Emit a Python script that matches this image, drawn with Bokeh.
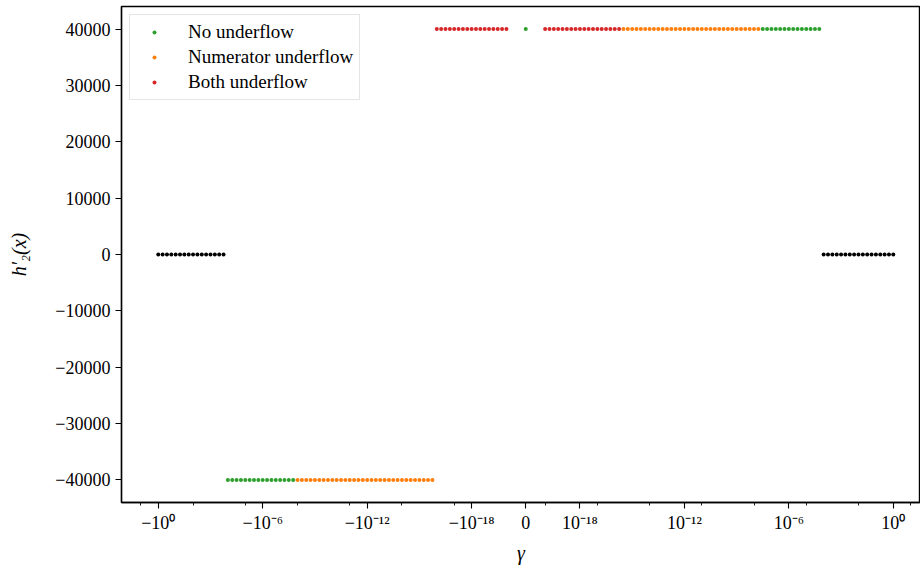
import math
from bokeh.plotting import figure
from bokeh.models import (ColumnDataSource, CustomJSTransform, FixedTicker,
                          CustomJSTickFormatter, Range1d)
from bokeh.transform import transform
from bokeh.embed import file_html
from bokeh.resources import INLINE

# ---------------- data (gamma = sign * 10**exponent) ----------------
# negative gamma side
neg_zero_exp = [0, -0.25, -0.5, -0.75, -1, -1.25, -1.5, -1.75, -2, -2.25, -2.5, -2.75,
                -3, -3.25, -3.5, -3.75]
neg_no_exp = [-4, -4.25, -4.5, -4.75, -5, -5.25, -5.5, -5.75, -6, -6.25, -6.5, -6.75,
              -7, -7.25, -7.5, -7.75]
neg_num_exp = [-8, -8.25, -8.5, -8.75, -9, -9.25, -9.5, -9.75, -10, -10.25, -10.5, -10.75,
               -11, -11.25, -11.5, -11.75, -12, -12.25, -12.5, -12.75, -13, -13.25, -13.5,
               -13.75, -14, -14.25, -14.5, -14.75, -15, -15.25, -15.5, -15.75]
neg_both_exp = [-16, -16.25, -16.5, -16.75, -17, -17.25, -17.5, -17.75, -18, -18.25, -18.5,
                -18.75, -19, -19.25, -19.5, -19.75, -20]
# positive gamma side
pos_both_exp = [-20, -19.75, -19.5, -19.25, -19, -18.75, -18.5, -18.25, -18, -17.75, -17.5,
                -17.25, -17, -16.75, -16.5, -16.25, -16, -15.75]
pos_num_exp = [-15.5, -15.25, -15, -14.75, -14.5, -14.25, -14, -13.75, -13.5, -13.25, -13,
               -12.75, -12.5, -12.25, -12, -11.75, -11.5, -11.25, -11, -10.75, -10.5, -10.25,
               -10, -9.75, -9.5, -9.25, -9, -8.75, -8.5, -8.25, -8, -7.75]
pos_no_exp = [-7.5, -7.25, -7, -6.75, -6.5, -6.25, -6, -5.75, -5.5, -5.25, -5, -4.75,
              -4.5, -4.25]
pos_zero_exp = [-4, -3.75, -3.5, -3.25, -3, -2.75, -2.5, -2.25, -2, -1.75, -1.5, -1.25,
                -1, -0.75, -0.5, -0.25, 0]

# h2'(x) levels
H_LOW = -40000
H_ZERO = 0
H_HIGH = 40000
gamma_zero_h = H_HIGH          # the single point at gamma = 0 (No underflow)

x_major_gamma = [-1, -1e-6, -1e-12, -1e-18, 0, 1e-18, 1e-12, 1e-6, 1]
x_major_labels = ["\u221210\u2070", "\u221210\u207b\u2076", "\u221210\u207b\u00b9\u00b2",
                  "\u221210\u207b\u00b9\u2078", "0", "10\u207b\u00b9\u2078",
                  "10\u207b\u00b9\u00b2", "10\u207b\u2076", "10\u2070"]
x_minor_gamma = [-10, -1e-2, -1e-5, -1e-8, -1e-11, -1e-14, -1e-17,
                 1e-20, 1e-17, 1e-14, 1e-11, 1e-8, 1e-5, 1e-2, 10]
y_ticks = [-40000, -30000, -20000, -10000, 0, 10000, 20000, 30000, 40000]

# ---------------- symlog scale ----------------
LINTHRESH = 1e-20
LINSCALE = 1.0
LS_ADJ = LINSCALE / (1 - 1 / 10)


def symlog(x):
    a = abs(x)
    if a <= LINTHRESH:
        return x / LINTHRESH * LS_ADJ
    return math.copysign(LS_ADJ + math.log10(a / LINTHRESH), x)


symlog_t = CustomJSTransform(args=dict(L=LINTHRESH, s=LS_ADJ), func="""
    const a = Math.abs(x);
    return a <= L ? x / L * s : Math.sign(x) * (s + Math.log10(a / L));
""", v_func="""
    const out = new Float64Array(xs.length);
    for (let i = 0; i < xs.length; i++) {
        const v = xs[i], a = Math.abs(v);
        out[i] = a <= L ? v / L * s : Math.sign(v) * (s + Math.log10(a / L));
    }
    return out;
""")

black_src = ColumnDataSource(dict(
    gamma=[-10 ** e for e in neg_zero_exp] + [10 ** e for e in pos_zero_exp],
    h=[H_ZERO] * (len(neg_zero_exp) + len(pos_zero_exp))))
no_src = ColumnDataSource(dict(
    gamma=[-10 ** e for e in neg_no_exp] + [0.0] + [10 ** e for e in pos_no_exp],
    h=[H_LOW] * len(neg_no_exp) + [gamma_zero_h] + [H_HIGH] * len(pos_no_exp)))
num_src = ColumnDataSource(dict(
    gamma=[-10 ** e for e in neg_num_exp] + [10 ** e for e in pos_num_exp],
    h=[H_LOW] * len(neg_num_exp) + [H_HIGH] * len(pos_num_exp)))
both_src = ColumnDataSource(dict(
    gamma=[-10 ** e for e in neg_both_exp] + [10 ** e for e in pos_both_exp],
    h=[H_HIGH] * (len(neg_both_exp) + len(pos_both_exp))))

# ---------------- figure ----------------
span = 2 * symlog(1)
x_start = -symlog(1) - 0.05 * span
x_end = x_start + span * 1.087

p = figure(width=920, height=568, output_backend="svg", toolbar_location=None,
           x_range=Range1d(x_start, x_end), y_range=Range1d(-44000, 44000),
           min_border_left=121, min_border_right=0, min_border_top=6,
           min_border_bottom=66)
p.outline_line_color = "black"
p.outline_line_width = 1.4
p.outline_line_alpha = 1.0
p.grid.visible = False
p.background_fill_color = "white"
p.border_fill_color = "white"

FONT = "Liberation Serif"
sz = 4
p.scatter(x=transform("gamma", symlog_t), y="h", source=black_src, size=sz,
          color="black", line_width=0)
p.scatter(x=transform("gamma", symlog_t), y="h", source=no_src, size=sz,
          color="#2ca02c", line_width=0, legend_label="No underflow")
p.scatter(x=transform("gamma", symlog_t), y="h", source=num_src, size=sz,
          color="#ff7f0e", line_width=0, legend_label="Numerator underflow")
p.scatter(x=transform("gamma", symlog_t), y="h", source=both_src, size=sz,
          color="#d62728", line_width=0, legend_label="Both underflow")

# x axis (symlog)
xa = p.xaxis[0]
xmaj = [symlog(g) for g in x_major_gamma]
xa.ticker = FixedTicker(ticks=xmaj, minor_ticks=[symlog(g) for g in x_minor_gamma])
xa.formatter = CustomJSTickFormatter(args=dict(tpos=xmaj, tlab=x_major_labels), code="""
    for (let i = 0; i < tpos.length; i++) {
        if (Math.abs(tpos[i] - tick) < 1e-6) return tlab[i];
    }
    return "";
""")
xa.axis_label = "\u03b3"
xa.axis_label_text_font_style = "italic"

ya = p.yaxis[0]
ya.ticker = FixedTicker(ticks=y_ticks, minor_ticks=[])
ya.formatter = CustomJSTickFormatter(code="""
    return tick < 0 ? "\\u2212" + Math.abs(tick) : tick.toString();
""")
ya.axis_label = "h\u2032\u2082(x)"
ya.axis_label_text_font_style = "italic"

for ax in (xa, ya):
    ax.axis_line_width = 1.3
    ax.axis_line_color = "black"
    ax.major_tick_line_width = 1.1
    ax.minor_tick_line_width = 0.9
    ax.major_tick_out = 6
    ax.major_tick_in = 0
    ax.minor_tick_out = 3
    ax.minor_tick_in = 0
    ax.major_label_text_font = FONT
    ax.major_label_text_font_size = "18px"
    ax.major_label_text_color = "black"
    ax.axis_label_text_font = FONT
    ax.axis_label_text_font_size = "20px"
    ax.axis_label_text_color = "black"
xa.major_label_standoff = 4
xa.axis_label_standoff = 6
ya.major_label_standoff = 5
ya.axis_label_standoff = 22
ya.minor_tick_out = 0

lg = p.legend[0]
lg.location = "top_left"
lg.margin = 8
lg.padding = 6
lg.spacing = 3
lg.glyph_width = 36
lg.glyph_height = 10
lg.label_height = 20
lg.label_standoff = 16
lg.label_text_font = FONT
lg.label_text_font_size = "19px"
lg.label_text_color = "black"
lg.border_line_color = "#cccccc"
lg.border_line_width = 1
lg.background_fill_alpha = 0.8

open("out.html", "w").write(file_html(p, INLINE))
